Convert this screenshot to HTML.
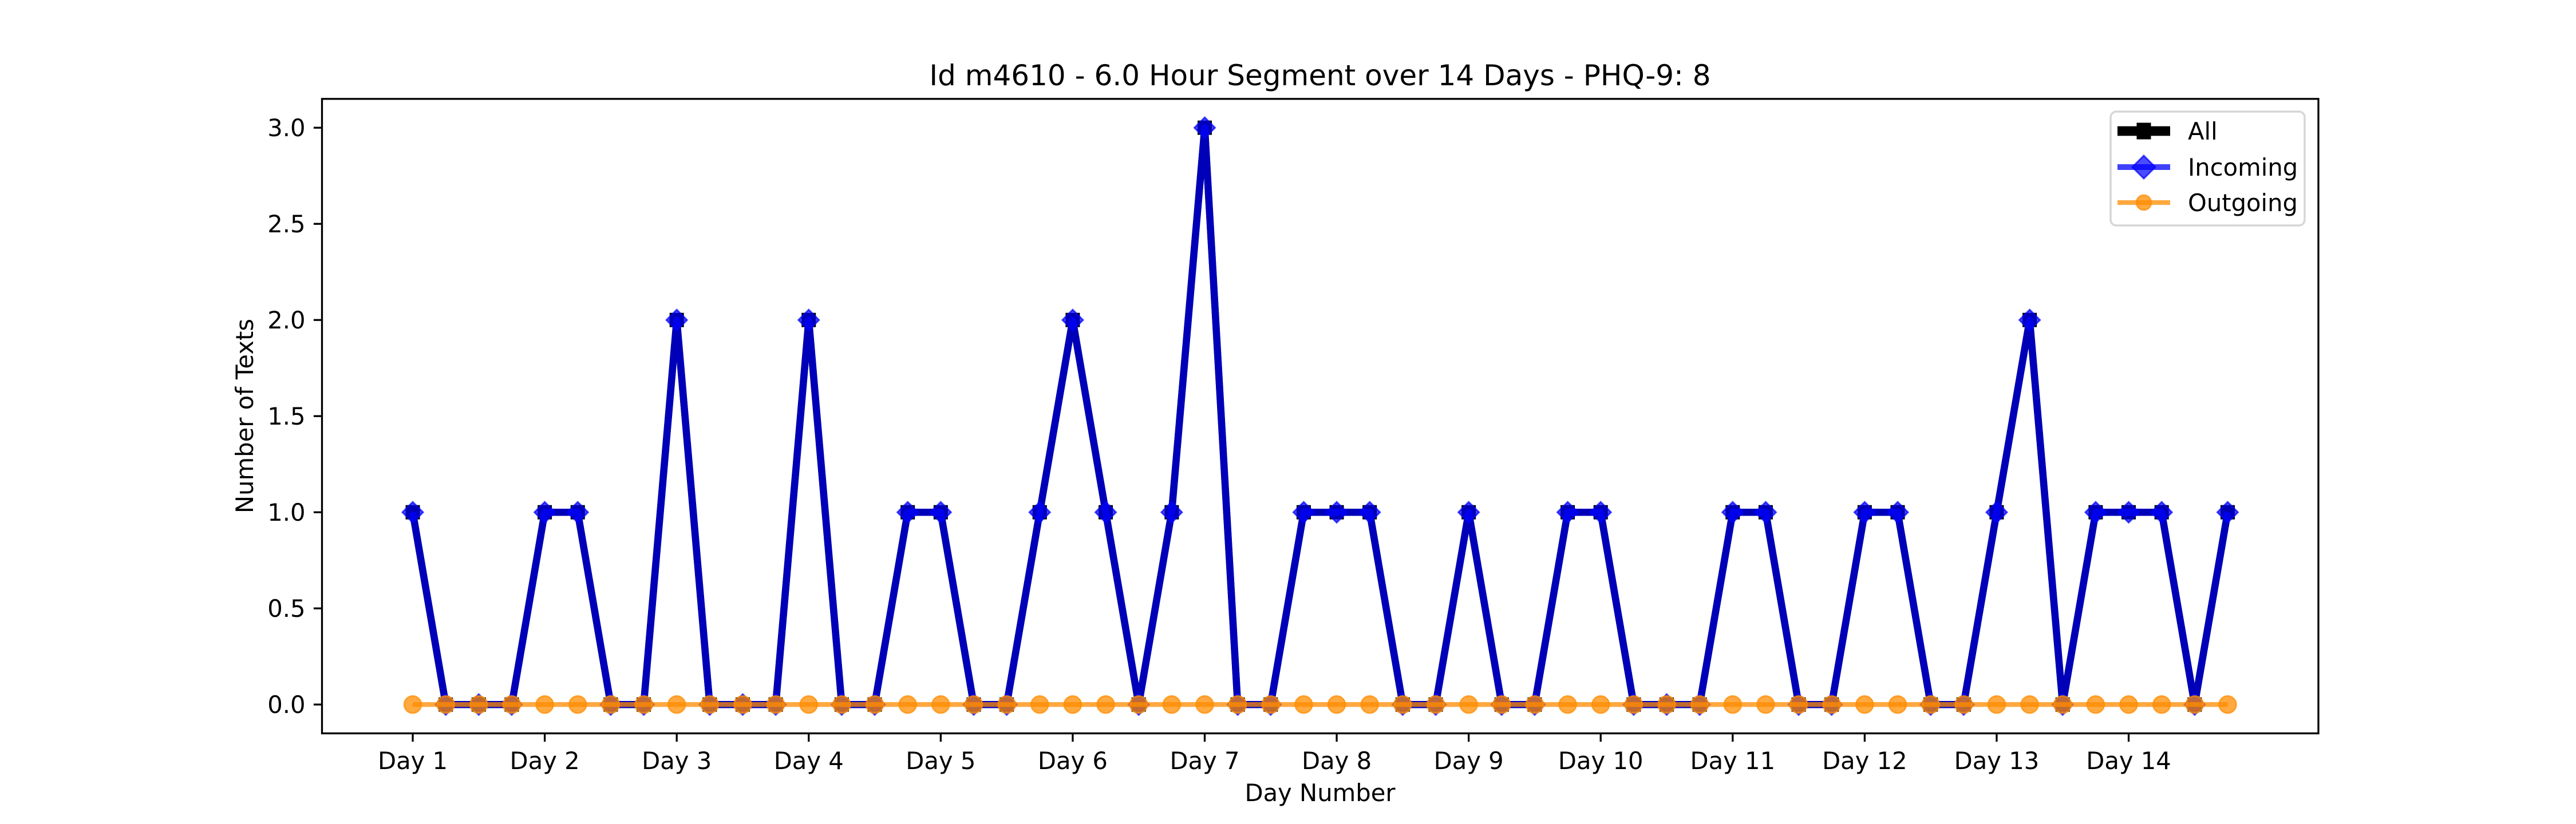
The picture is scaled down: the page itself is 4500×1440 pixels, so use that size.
<!DOCTYPE html>
<html>
<head>
<meta charset="utf-8">
<style>
html,body{margin:0;padding:0;background:#fff;}
svg{display:block;}
text{font-family:"DejaVu Sans","Liberation Sans",sans-serif;fill:#000;}
</style>
</head>
<body>
<svg id="chart" width="4500" height="1440" viewBox="0 0 4500 1440" xmlns="http://www.w3.org/2000/svg">
  <rect x="0" y="0" width="4500" height="1440" fill="#fff"/>
  <text x="2306" y="149" font-size="50" text-anchor="middle">Id m4610 - 6.0 Hour Segment over 14 Days - PHQ-9: 8</text>
  <g id="plot"></g>
  <g id="axes"></g>
  <text x="2306" y="1400" font-size="41.7" text-anchor="middle">Day Number</text>
  <text x="0" y="0" font-size="41.7" text-anchor="middle" transform="translate(442,727) rotate(-90)">Number of Texts</text>
  <g id="legend">
    <rect x="3687" y="195" width="339" height="199" rx="10" ry="10" fill="#fff" fill-opacity="0.8" stroke="#d6d6d6" stroke-width="3.5"/>
    <g>
      <line x1="3699" y1="229" x2="3791" y2="229" stroke="#000" stroke-width="16.7"/>
      <rect x="3732.5" y="214.5" width="25" height="29" fill="#000"/>
      <text x="3822" y="244" font-size="41.7">All</text>
    </g>
    <g>
      <line x1="3699" y1="292" x2="3791" y2="292" stroke="#0000ff" stroke-opacity="0.75" stroke-width="10"/>
      <polygon points="3745,272 3765,292 3745,312 3725,292" fill="#0000ff" fill-opacity="0.7" stroke="#0000ff" stroke-opacity="0.7" stroke-width="3"/>
      <text x="3822" y="307" font-size="41.7">Incoming</text>
    </g>
    <g>
      <line x1="3699" y1="354" x2="3791" y2="354" stroke="#ff8c00" stroke-opacity="0.75" stroke-width="8.3"/>
      <circle cx="3745" cy="354" r="13" fill="#ff8c00" fill-opacity="0.75" stroke="#ff8c00" stroke-opacity="0.75" stroke-width="2.5"/>
      <text x="3822" y="369" font-size="41.7">Outgoing</text>
    </g>
  </g>
</svg>
<script>
const dayLabels = ["Day 1","Day 2","Day 3","Day 4","Day 5","Day 6","Day 7","Day 8","Day 9","Day 10","Day 11","Day 12","Day 13","Day 14"];
const yTicks = [0.0,0.5,1.0,1.5,2.0,2.5,3.0];
const allValues = [1,0,0,0, 1,1,0,0, 2,0,0,0, 2,0,0,1, 1,0,0,1, 2,1,0,1, 3,0,0,1, 1,1,0,0, 1,0,0,1, 1,0,0,0, 1,1,0,0, 1,1,0,0, 1,2,0,1, 1,1,0,1];
const incomingValues = [1,0,0,0, 1,1,0,0, 2,0,0,0, 2,0,0,1, 1,0,0,1, 2,1,0,1, 3,0,0,1, 1,1,0,0, 1,0,0,1, 1,0,0,0, 1,1,0,0, 1,1,0,0, 1,2,0,1, 1,1,0,1];
const outgoingValues = [0,0,0,0, 0,0,0,0, 0,0,0,0, 0,0,0,0, 0,0,0,0, 0,0,0,0, 0,0,0,0, 0,0,0,0, 0,0,0,0, 0,0,0,0, 0,0,0,0, 0,0,0,0, 0,0,0,0, 0,0,0,0];
const segmentsPerDay = 4;

const NS = "http://www.w3.org/2000/svg";
const L = 562.5, R = 4050, T = 172.8, B = 1281.6;
const n = allValues.length;
const xMin = -0.05*(n-1), xMax = (n-1)*1.05;
const yMaxData = Math.max(...allValues, ...incomingValues, ...outgoingValues, 0);
const yMin = -0.05*yMaxData, yMax = yMaxData*1.05;
function xs(i){ return L + (i - xMin)/(xMax - xMin)*(R - L); }
function ys(v){ return B - (v - yMin)/(yMax - yMin)*(B - T); }
function mk(tag, attrs, parent){ const e=document.createElementNS(NS,tag); for(const k in attrs) e.setAttribute(k,attrs[k]); parent.appendChild(e); return e; }

const plot = document.getElementById('plot');
const axes = document.getElementById('axes');

function series(vals, name, stroke, sw, op, marker){
  const g = mk('g', {}, plot);
  
  
  const pts = vals.map((v,i)=>xs(i).toFixed(1)+','+ys(v).toFixed(1)).join(' ');
  const pl = mk('polyline', {points:pts, fill:'none', stroke:stroke, 'stroke-width':sw, 'stroke-opacity':op, 'stroke-linejoin':'round'}, g);
  
  
  vals.forEach((v,i)=>{
    const x = xs(i), y = ys(v);
    let m;
    if(marker==='s'){
      m = mk('rect', {x:x-12.5, y:y-12.5, width:25, height:25, fill:'#000'}, g);
    } else if(marker==='D'){
      m = mk('polygon', {points:`${x},${y-18} ${x+18},${y} ${x},${y+18} ${x-18},${y}`, fill:'#0000ff','fill-opacity':0.7, stroke:'#0000ff','stroke-opacity':0.7,'stroke-width':3}, g);
    } else {
      m = mk('circle', {cx:x, cy:y, r:15, fill:'#ff8c00','fill-opacity':0.75, stroke:'#ff8c00','stroke-opacity':0.75,'stroke-width':2.5}, g);
    }
    
    
  });
}
series(allValues, 'all', '#000', 12.5, 1, 's');
series(incomingValues, 'incoming', '#0000ff', 12.5, 0.72, 'D');
series(outgoingValues, 'outgoing', '#ff8c00', 8.3, 0.75, 'o');

const frame = mk('rect', {x:L, y:T, width:R-L, height:B-T, fill:'none', stroke:'#000', 'stroke-width':3.3}, axes);



yTicks.forEach(v=>{
  const y = ys(v);
  const t = mk('line', {x1:L-14.6, y1:y, x2:L, y2:y, stroke:'#000','stroke-width':3.3}, axes);
  
  
  const lb = mk('text', {x:L-29, y:y+15, 'font-size':41.7, 'text-anchor':'end'}, axes);
  lb.textContent = v.toFixed(1);
  
  
});
dayLabels.forEach((d,k)=>{
  const x = xs(k*segmentsPerDay);
  const t = mk('line', {x1:x, y1:B, x2:x, y2:B+14.6, stroke:'#000','stroke-width':3.3}, axes);
  
  
  const lb = mk('text', {x:x, y:1344, 'font-size':41.7, 'text-anchor':'middle'}, axes);
  lb.textContent = d;
  
  
});
</script>
</body>
</html>
